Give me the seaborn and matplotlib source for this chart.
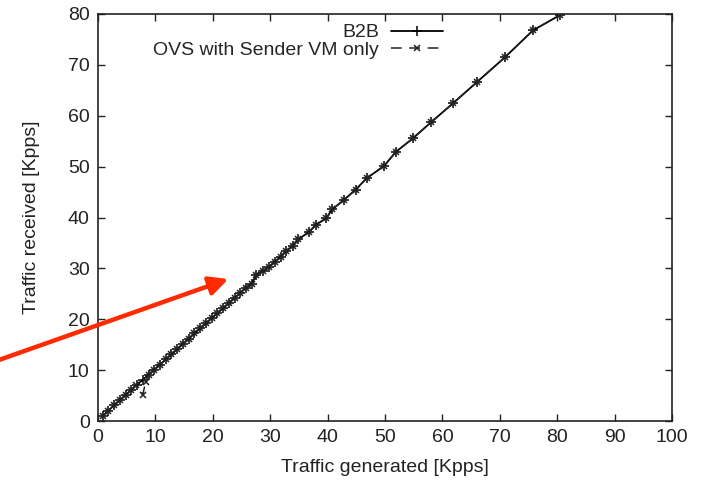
import matplotlib
matplotlib.use("Agg")
import matplotlib.pyplot as plt
import seaborn as sns
import pandas as pd

sns.set_theme(style="ticks")
plt.rcParams['font.family'] = ['Liberation Sans', 'DejaVu Sans']

# B2B series
b2b_x = [0.8, 1.8, 2.8, 3.8, 4.8, 5.8, 6.8, 7.8, 8.8, 9.8, 10.8, 11.8, 12.8, 13.8,
         14.8, 15.8, 16.8, 17.8, 18.8, 19.8, 20.8, 21.8, 22.8, 23.8, 24.8, 25.8, 26.8,
         27.6, 28.8, 29.8, 30.8, 31.8, 32.8, 33.9, 34.9, 36.8, 37.9, 39.8, 40.8, 42.9,
         44.9, 46.8, 49.8, 51.9, 54.9, 58.0, 61.9, 66.0, 70.9, 75.8, 80.5, 83.5]
b2b_y = [1.0, 2.0, 3.1, 4.1, 5.1, 6.1, 7.1, 8.1, 9.1, 10.1, 11.1, 12.1, 13.1, 14.1,
         15.2, 16.2, 17.2, 18.2, 19.2, 20.2, 21.2, 22.2, 23.2, 24.2, 25.2, 26.2, 27.0,
         28.7, 29.5, 30.3, 31.3, 32.3, 33.4, 34.4, 35.7, 37.2, 38.5, 39.9, 41.6, 43.5,
         45.5, 47.7, 50.1, 52.9, 55.6, 58.7, 62.5, 66.6, 71.5, 76.8, 79.8, 84.0]

# OVS with Sender VM only series
ovs_x = [0.8, 1.8, 2.8, 3.8, 4.8, 5.8, 6.7, 7.8, 8.3, 8.8, 9.8, 10.8, 11.8, 12.8, 13.8,
         14.8, 15.8, 16.8, 17.8, 18.8, 19.8, 20.8, 21.8, 22.8, 23.8, 24.8, 25.8, 26.8,
         27.6, 28.8, 29.8, 30.8, 31.8, 32.8, 33.9, 34.9, 36.8, 37.9, 39.8, 40.8, 42.9,
         44.9, 46.8, 49.8, 51.9, 54.9, 58.0, 61.9, 66.0, 70.9, 75.8, 80.5, 83.5]
ovs_y = [1.0, 2.0, 3.1, 4.1, 5.1, 6.1, 7.1, 5.2, 7.6, 9.1, 10.1, 11.1, 12.1, 13.1, 14.1,
         15.2, 16.2, 17.2, 18.2, 19.2, 20.2, 21.2, 22.2, 23.2, 24.2, 25.2, 26.2, 27.0,
         28.7, 29.5, 30.3, 31.3, 32.3, 33.4, 34.4, 35.7, 37.2, 38.5, 39.9, 41.6, 43.5,
         45.5, 47.7, 50.1, 52.9, 55.6, 58.7, 62.5, 66.6, 71.5, 76.8, 79.8, 84.0]

x_ticks = list(range(0, 101, 10))
y_ticks = list(range(0, 81, 10))

df_b2b = pd.DataFrame({"x": b2b_x, "y": b2b_y})
df_ovs = pd.DataFrame({"x": ovs_x, "y": ovs_y})

fig = plt.figure(figsize=(7.07, 4.84), dpi=100)
ax = fig.add_axes([98/707, 1-421/484, 574/707, 407/484])

sns.lineplot(data=df_b2b, x="x", y="y", ax=ax, color="black", lw=1.3,
             marker="+", markersize=7, markeredgewidth=1.1,
             markeredgecolor="black", label="B2B",
             sort=False, estimator=None)
sns.lineplot(data=df_ovs, x="x", y="y", ax=ax, color="#222222", lw=1.1,
             marker="x", markersize=5, markeredgewidth=1.1,
             markeredgecolor="#222222",
             label="OVS with Sender VM only", sort=False, estimator=None)
ax.lines[1].set_dashes([7, 5])

ax.set_xlim(0, 100)
ax.set_ylim(0, 80)
ax.set_xticks(x_ticks)
ax.set_yticks(y_ticks)
ax.tick_params(direction="in", top=True, right=True, length=5, width=1,
               labelsize=14, colors="#222222", pad=6)
for s in ax.spines.values():
    s.set_linewidth(1.2)
    s.set_color("#222222")
ax.set_xlabel("Traffic generated [Kpps]", fontsize=14, color="#222222", labelpad=9)
ax.set_ylabel("Traffic received [Kpps]", fontsize=14, color="#222222", labelpad=20)

leg = ax.legend(loc="upper right", bbox_to_anchor=(0.61, 0.988), frameon=False,
                markerfirst=False, fontsize=14, handlelength=2.7,
                handletextpad=0.6, labelspacing=0.0, borderaxespad=0.0,
                borderpad=0.25)
try:
    leg._legend_box.get_children()[1].get_children()[0].align = "right"
except Exception:
    pass

ax.annotate("", xy=(22.7, 27.9), xytext=(-18.5, 11.5),
            xycoords="data", textcoords="data", annotation_clip=False,
            arrowprops=dict(arrowstyle="-|>", color="#FF2A00", lw=3.2,
                            mutation_scale=28, shrinkA=0, shrinkB=0))

fig.savefig("out.png", dpi=100)
